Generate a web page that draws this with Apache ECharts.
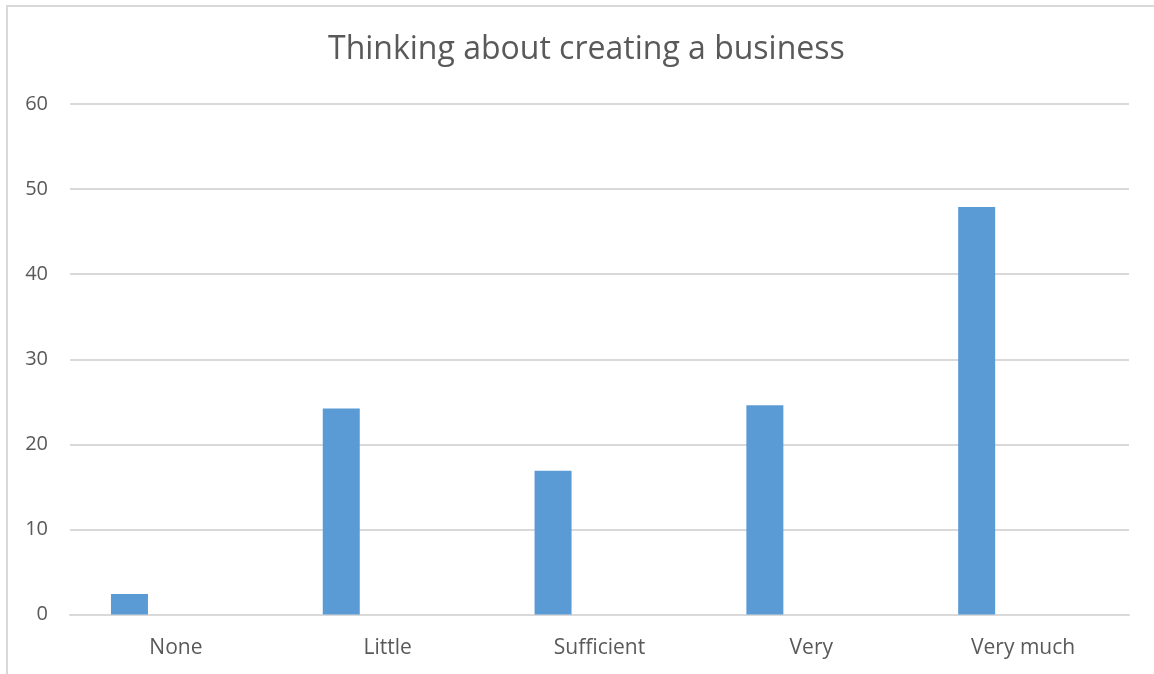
<!DOCTYPE html>
<html>
<head>
<meta charset="utf-8">
<title>Thinking about creating a business</title>
<script src="https://cdn.jsdelivr.net/npm/echarts@6/dist/echarts.min.js"></script>
<style>
  html, body { margin: 0; padding: 0; background: #fff; }
  #frame {
    position: absolute; left: 6px; top: 5px; width: 1160px; height: 680px;
    border-top: 2px solid #d9d9d9; border-left: 2px solid #d9d9d9;
  }
  #main { position: absolute; left: 0; top: 0; width: 1154px; height: 674px; }
</style>
</head>
<body>
<div id="frame"></div>
<div id="main"></div>
<script>
  // data
  var categories = ['None', 'Little', 'Sufficient', 'Very', 'Very much']
  var values = [2.4, 24.2, 16.9, 24.6, 47.9]
  // the original has a second (empty) series that pushes the bars to the left
  var emptyValues = []
  var yTicks = { min: 0, max: 60, interval: 10 }

  var myChart = echarts.init(document.getElementById('main'))

  myChart.setOption({
    animation: false,
    title: {
      text: 'Thinking about creating a business',
      left: 323,
      top: 29,
      textStyle: {
        fontFamily: 'Open Sans',
        fontSize: 32,
        fontWeight: 'normal',
        color: '#595959'
      }
    },
    grid: { left: 70, right: 25, top: 104, bottom: 59.5 },
    xAxis: {
      type: 'category',
      data: categories,
      axisLine: { lineStyle: { color: '#d9d9d9', width: 2 } },
      axisTick: { show: false },
      axisLabel: {
        margin: 23,
        fontFamily: 'Open Sans',
        fontSize: 21,
        color: '#595959'
      }
    },
    yAxis: {
      type: 'value',
      min: yTicks.min,
      max: yTicks.max,
      interval: yTicks.interval,
      axisLine: { show: false },
      axisTick: { show: false },
      splitLine: { lineStyle: { color: '#d9d9d9', width: 2 } },
      axisLabel: {
        margin: 22,
        fontFamily: 'Open Sans',
        fontSize: 20,
        color: '#595959'
      }
    },
    series: [
      {
        name: 'Series1',
        type: 'bar',
        data: values,
        barWidth: 37,
        barGap: '151%',
        itemStyle: { color: '#5b9bd5' }
      },
      {
        name: 'Series2',
        type: 'bar',
        data: emptyValues,
        barWidth: 37,
        itemStyle: { color: '#ed7d31' }
      }
    ]
  })
</script>
</body>
</html>
